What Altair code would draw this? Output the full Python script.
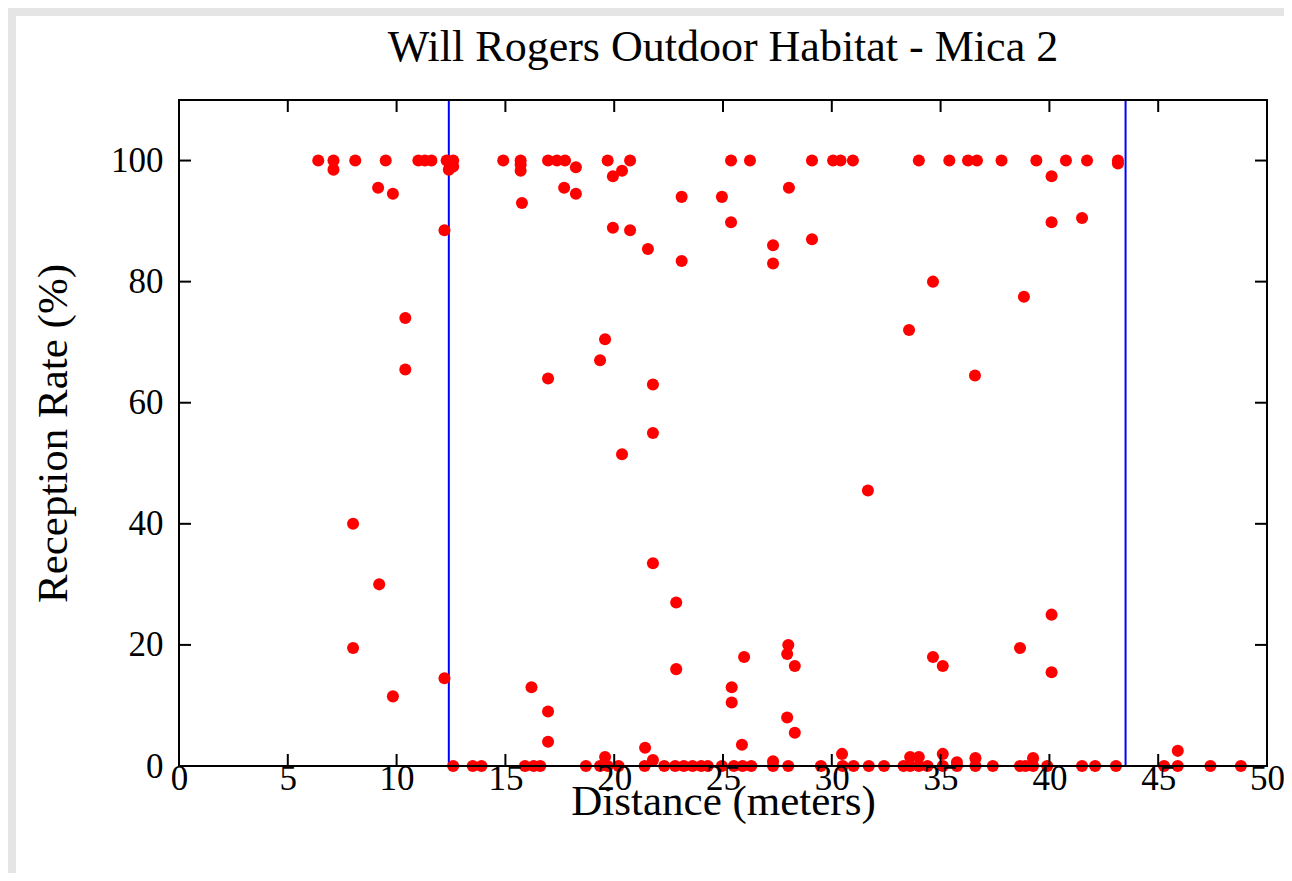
import altair as alt
import pandas as pd

# Distance (m) and reception rate (%)
dist_x = [
    6.4, 7.1, 7.1, 8.1, 9.5, 11.0, 11.3, 11.6, 12.3, 12.6, 12.4, 12.6,
    9.15, 9.83, 12.2, 10.4, 10.4, 8.0, 9.2, 8.0, 9.83, 12.2, 12.6,
    14.9, 15.7, 15.7, 15.7, 16.96, 17.37, 17.74, 18.24, 19.7, 20.73, 20.36, 19.94,
    17.7, 18.24, 15.76, 23.1, 24.95, 25.37, 26.24, 19.94, 20.73, 21.55, 23.1, 25.37,
    19.58, 19.35, 16.96, 21.78, 20.36, 21.78, 21.78, 22.85, 22.85, 16.2, 16.96, 16.96,
    21.42, 21.78, 19.58, 25.4, 25.4, 25.87, 25.97,
    27.3, 27.3, 28.03, 29.09, 29.09, 30.06, 30.4, 30.97, 34.0, 35.4, 36.26, 36.67,
    37.8, 39.4, 40.1, 40.1, 40.76, 41.73, 43.15, 43.15, 41.5, 34.65, 38.83, 33.55,
    36.58, 31.66, 28.0, 27.95, 28.3, 27.95, 28.3, 34.65, 35.1, 38.65, 40.1, 40.1,
    30.47, 33.6, 34.0, 35.1, 35.75, 36.6, 39.25, 45.9, 27.3,
    13.5, 13.9, 15.9, 16.3, 16.6, 18.7, 19.35, 19.7, 20.2, 21.4, 22.3, 22.8, 23.2,
    23.6, 24.0, 24.3, 24.95, 25.5, 25.9, 26.3,
    27.3, 28.0, 29.5, 30.5, 31.0, 31.7, 32.4, 33.3, 33.6, 34.0, 34.4, 35.1, 35.75,
    36.6, 37.4, 38.65, 38.9, 39.25, 39.9,
    41.5, 42.1, 43.06, 45.27, 45.9, 47.4, 48.8,
]
rate_y = [
    100, 100, 98.5, 100, 100, 100, 100, 100, 100, 100, 98.5, 99,
    95.5, 94.5, 88.5, 74, 65.5, 40, 30, 19.5, 11.5, 14.5, 0,
    100, 100, 99.3, 98.3, 100, 100, 100, 98.9, 100, 100, 98.3, 97.4,
    95.5, 94.5, 93, 94, 94, 100, 100, 88.9, 88.5, 85.4, 83.4, 89.8,
    70.5, 67, 64, 63, 51.5, 55, 33.5, 27, 16, 13, 9, 4,
    3, 1, 1.5, 13, 10.5, 3.5, 18,
    86, 83, 95.5, 100, 87, 100, 100, 100, 100, 100, 100, 100,
    100, 100, 97.4, 89.8, 100, 100, 100, 99.5, 90.5, 80, 77.5, 72,
    64.5, 45.5, 20, 18.5, 16.5, 8, 5.5, 18, 16.5, 19.5, 25, 15.5,
    2, 1.5, 1.5, 2, 0.6, 1.3, 1.3, 2.5, 0.8,
    0, 0, 0, 0, 0, 0, 0, 0, 0, 0, 0, 0, 0,
    0, 0, 0, 0, 0, 0, 0,
    0, 0, 0, 0, 0, 0, 0, 0, 0, 0, 0, 0, 0,
    0, 0, 0, 0, 0, 0,
    0, 0, 0, 0, 0, 0, 0,
]
boundary_x = [12.4, 43.5]
x_ticks = [0, 5, 10, 15, 20, 25, 30, 35, 40, 45, 50]
y_ticks = [0, 20, 40, 60, 80, 100]

W, H = 1088, 666
FONT = "Liberation Serif"

pts = pd.DataFrame({"x": dist_x, "y": rate_y})
bnd = pd.DataFrame({"x": boundary_x})
xt = pd.DataFrame({"t": x_ticks})
yt = pd.DataFrame({"t": y_ticks})
one = pd.DataFrame({"a": [0]})

xs = alt.Scale(domain=[0, 50], nice=False, zero=False)
ys = alt.Scale(domain=[0, 110], nice=False, zero=False)

panel = alt.Chart(one).mark_rect(color="white").encode(
    x=alt.value(-163), x2=alt.value(W + 17), y=alt.value(-84), y2=alt.value(H + 107)
)

points = alt.Chart(pts).mark_circle(color="#ff0000", opacity=1, size=145).encode(
    x=alt.X("x:Q", scale=xs, title="Distance (meters)",
            axis=alt.Axis(values=x_ticks, format="d", tickSize=0, domain=False, grid=False,
                          labelFlush=False, labelPadding=-5, titlePadding=-16, zindex=2)),
    y=alt.Y("y:Q", scale=ys, title="Reception Rate (%)",
            axis=alt.Axis(values=y_ticks, format="d", tickSize=0, domain=False, grid=False,
                          labelFlush=False, labelPadding=16, titlePadding=35, zindex=2)),
)

lines = alt.Chart(bnd).mark_rule(color="#0000ff", strokeWidth=2).encode(
    x=alt.X("x:Q", scale=xs)
)

frame = alt.Chart(one).mark_rect(filled=False, stroke="black", strokeWidth=2).encode(
    x=alt.value(0), x2=alt.value(W), y=alt.value(0), y2=alt.value(H)
)

tick_style = dict(color="black", strokeWidth=2)
bt = alt.Chart(xt).mark_rule(**tick_style).encode(
    x=alt.X("t:Q", scale=xs), y=alt.value(H), y2=alt.value(H - 12))
tt = alt.Chart(xt).mark_rule(**tick_style).encode(
    x=alt.X("t:Q", scale=xs), y=alt.value(0), y2=alt.value(12))
lt = alt.Chart(yt).mark_rule(**tick_style).encode(
    y=alt.Y("t:Q", scale=ys), x=alt.value(0), x2=alt.value(12))
rt = alt.Chart(yt).mark_rule(**tick_style).encode(
    y=alt.Y("t:Q", scale=ys), x=alt.value(W), x2=alt.value(W - 12))

chart = alt.layer(panel, lines, points, frame, bt, tt, lt, rt).properties(
    width=W, height=H,
    title=alt.Title("Will Rogers Outdoor Habitat - Mica 2", font=FONT, fontSize=44,
                    fontWeight="normal", color="black", anchor="middle", offset=-54,
                    frame="group", zindex=2),
    autosize=alt.AutoSizeParams(type="none"),
    padding={"left": 171, "top": 92, "right": 17, "bottom": 107},
).configure(
    background="#e5e5e5",
).configure_view(
    stroke=None, fill=None,
).configure_axis(
    labelFont=FONT, labelFontSize=35, labelColor="black",
    titleFont=FONT, titleFontSize=43, titleFontWeight="normal", titleColor="black",
)

chart.save("out.html", embed_options={"renderer": "svg", "actions": False})
